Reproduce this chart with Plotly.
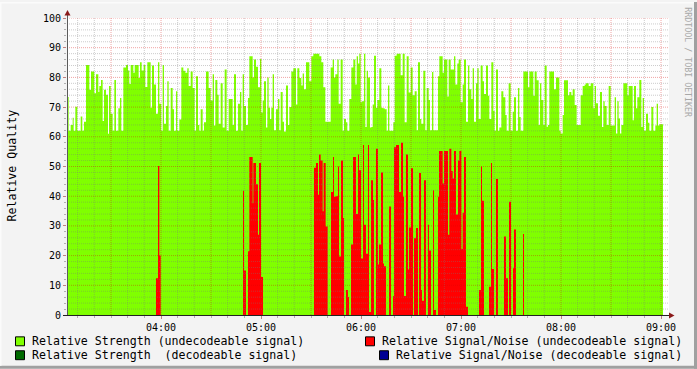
import plotly.graph_objects as go

# ---------------- data (time = minutes after 03:00) ----------------
g_t = [3.4,4.6,5.8,7.0,7.6,8.6,9.8,11.8,12.8,13.8,15.0,17.0,18.0,20.0,21.0,22.4,23.0,24.0,25.0,25.8,
       27.0,28.2,28.8,29.8,31.0,32.0,33.0,34.4,35.4,36.2,37.4,39.0,40.2,41.0,41.8,43.4,44.2,46.6,47.4,48.4,
       49.6,50.6,51.8,53.8,54.6,55.8,57.0,58.2,59.0,60.2,61.0,61.8,63.0,63.8,64.6,65.8,67.0,67.8,69.0,69.8,
       71.0,72.2,73.4,74.6,75.8,76.6,77.8,79.0,80.2,81.0,82.2,83.0,83.8,85.0,85.8,87.0,88.6,89.8,91.0,91.8,
       92.6,93.8,94.6,95.8,97.0,98.2,99.4,100.6,103.0,103.8,105.0,106.2,107.4,108.2,109.0,109.8,111.0,112.2,113.0,115.0,
       115.8,117.0,118.2,
       119.4,120.2,121.0,121.8,123.0,123.8,124.6,125.4,126.2,127.0,127.8,129.0,130.2,131.0,131.8,133.0,133.8,135.0,136.2,137.0,
       138.2,139.4,141.0,141.8,143.0,144.2,145.0,145.8,147.0,149.0,150.2,151.4,155.0,156.2,157.4,158.6,161.8,163.0,163.8,164.6,
       165.8,166.6,167.8,169.0,169.8,171.0,171.8,173.0,174.2,175.4,176.6,177.4,178.2,179.0,179.8,180.6,181.8,182.6,183.4,184.2,
       185.4,186.2,187.0,187.8,189.0,189.8,191.0,192.2,193.0,194.2,195.4,196.2,197.0,199.4,200.2,201.4,203.8,205.0,206.2,207.4,
       208.6,209.8,211.0,212.2,213.4,214.2,215.4,216.2,217.4,218.6,219.4,220.6,221.4,222.6,223.4,226.2,227.0,
       229.0,229.8,231.8,232.6,233.8,235.8,236.6,237.8,238.6,239.8,241.0,241.8,243.0,244.2,245.0,246.2,247.0,247.8,249.0,249.8,
       250.6,251.8,253.0,253.8,255.0,256.2,257.0,258.2,259.4,260.2,261.0,262.2,263.0,264.2,265.4,266.6,267.4,268.6,269.8,271.0,
       271.8,273.0,274.2,275.0,275.8,277.4,280.2,281.0,283.4,284.2,285.4,286.6,287.4,288.2,289.4,290.2,291.4,292.2,293.0,295.8,
       297.0,299.0,299.8,301.0,301.8,304.2,305.0,306.2,307.0,308.2,309.4,311.8,313.0,314.2,315.0,316.6,317.8,319.4,320.2,321.0,
       322.2,323.4,324.6,325.4,326.2,327.4,328.6,329.8,332.2,333.0,333.8,334.6,335.4,336.2,337.4,339.8,340.6,343.0,343.8,345.0,
       345.8,347.0,348.2,349.0,349.8,351.0,352.2,353.0,354.2,355.4,356.6,357.4,358.2,359.0]
g_v = [73.4,62.0,64.0,66.4,62.0,70.1,62.0,66.8,62.0,65.1,84.2,75.8,82.0,74.7,81.1,75.1,77.1,79.1,65.3,75.8,
       74.2,61.0,77.1,67.8,62.0,79.1,62.0,69.6,73.1,62.0,83.3,84.2,82.3,77.8,84.2,81.6,84.2,79.8,85.1,82.3,
       84.2,76.8,85.1,69.8,84.0,77.6,67.8,85.1,71.1,62.0,84.2,64.4,70.4,78.7,62.0,76.4,69.3,62.0,75.3,62.0,
       65.8,83.3,82.2,81.6,83.1,77.1,82.0,76.4,62.0,80.4,64.0,62.0,69.3,62.0,64.9,82.0,76.4,72.2,81.1,63.8,
       79.1,74.2,64.4,78.0,63.1,82.7,62.0,72.7,64.0,81.1,62.0,71.1,75.1,62.0,81.1,70.4,64.0,73.1,87.1,80.0,
       86.0,83.6,76.7,
       86.2,68.2,72.2,78.7,63.1,80.0,69.8,66.0,69.8,81.1,62.2,69.3,72.7,62.2,75.1,65.1,61.8,77.3,64.0,70.0,
       82.0,83.1,70.9,83.1,79.8,77.3,81.3,76.0,85.1,78.7,87.1,88.0,87.1,85.1,76.7,65.1,83.3,86.0,80.0,81.1,
       86.0,71.1,86.0,62.0,66.0,64.9,62.0,72.7,83.3,86.0,77.6,87.1,84.7,88.0,71.6,72.0,88.0,63.3,82.2,80.0,
       63.1,63.3,70.9,87.3,69.8,72.4,83.1,69.8,69.6,69.3,62.0,77.3,62.0,64.9,87.3,88.0,80.7,88.0,64.9,87.1,
       74.9,83.3,74.0,75.3,62.2,85.1,66.0,64.4,82.2,62.2,76.4,72.4,62.2,81.8,62.2,80.4,87.1,
       81.6,86.0,73.6,86.0,82.7,87.1,77.6,84.7,86.0,71.6,77.6,86.0,65.1,84.0,76.0,72.7,83.1,65.1,78.0,83.1,
       66.0,84.0,78.7,74.4,84.0,73.8,66.0,85.1,68.7,62.0,82.7,62.0,63.1,75.3,73.3,67.3,62.0,78.0,62.0,68.4,
       73.3,62.0,76.4,66.7,62.0,82.0,76.7,82.0,73.8,82.0,79.0,64.0,78.0,72.4,64.0,84.0,63.4,64.0,82.0,76.0,
       80.0,62.0,61.1,67.3,79.0,74.0,75.1,74.0,76.0,70.7,64.0,74.0,77.1,77.6,78.0,77.1,78.0,69.6,77.1,71.3,
       67.1,75.1,63.3,72.0,70.4,64.0,77.1,63.8,73.3,61.1,72.0,66.2,61.1,64.0,78.0,74.0,77.1,65.6,77.1,69.6,
       73.3,79.1,63.3,73.1,62.0,67.8,64.7,62.0,70.0,62.0,63.8,71.1,63.8,64.2]
g_end = 361.2

r_t = [57.0,58.2,59.0,59.8, 109.2,109.8,111.0,
       112.2,113.0,115.0,115.4,117.0,118.2,118.8,120.0,121.2,
       151.8,153.0,154.2,154.8,155.8,157.0,157.6,158.8,160.0,
       162.0,163.2,163.8,165.0,166.2,166.8,168.0,169.2,169.8,
       171.0,172.2,172.8,
       174.0,175.2,177.0,178.2,178.8,180.0,181.2,181.8,183.0,184.2,184.8,186.0,187.2,187.8,
       189.0,190.2,190.8,192.0,193.2,193.8,195.0, 196.8,198.0,
       199.2,199.8,201.0,202.8,204.0,205.2,205.8,207.0,208.2,208.8,210.0,211.2,
       211.8,213.0,214.2, 214.8,216.0,216.6,217.8,219.0, 220.2,220.8,222.0, 223.2,223.8,225.0,
       226.2,226.8,229.0,229.8,232.2,233.0,234.2,235.0,235.8,237.0,238.2,239.0,240.2,241.0,241.8,243.0,244.2,
       250.8,252.0,252.6,253.8, 256.8,258.0,258.6,259.8, 261.0,262.2,
       265.8,267.0,268.2, 268.8,270.0, 271.2,271.8,273.0, 277.2,277.8]
r_v = [12.4,50.2,20.0,0, 41.8,15.0,0,
       21.5,53.2,37.6,51.2,44.0,27.0,51.2,12.8,0,
       49.6,51.2,40.5,54.0,52.0,34.9,51.2,29.8,0,
       41.4,53.2,39.8,40.0,50.0,19.7,52.0,32.7,0,
       8.4,6.1,0,
       23.7,53.2,34.0,54.0,48.7,19.0,57.2,30.4,20.6,57.2,1.0,45.4,38.7,0,
       56.0,17.0,23.7,48.0,17.3,16.4,0, 36.5,0,
       6.4,56.5,57.2,41.4,58.0,39.8,6.4,54.0,15.3,29.5,49.4,0,
       25.8,29.3,0, 47.8,8.4,4.8,45.4,0, 30.4,21.7,0, 42.0,1.7,0,
       39.8,55.2,44.3,55.2,27.0,56.0,48.5,46.0,55.2,33.8,52.0,55.2,22.2,34.4,53.2,2.8,0,
       8.4,50.0,38.5,0, 9.5,51.2,15.5,0, 45.8,0,
       26.4,12.4,0, 38.1,0, 15.7,28.8,0, 27.3,0]

x_tick_labels = ["04:00", "05:00", "06:00", "07:00", "08:00", "09:00"]
y_tick_vals = [0, 10, 20, 30, 40, 50, 60, 70, 80, 90, 100]

legend_labels = ["Relative Strength (undecodeable signal)",
                 "Relative Signal/Noise (undecodeable signal)",
                 "Relative Strength \u00a0(decodeable signal)",
                 "Relative Signal/Noise (decodeable signal)"]

# ---------------- style ----------------
W, H = 697, 369
L, R, T, B = 67, 28, 16, 54
PW, PH = W - L - R, H - T - B
MIN_PER_PX = 0.6
XMIN = (L - 61) * MIN_PER_PX
XMAX = XMIN + PW * MIN_PER_PX

GREEN = "#80FF00"
RED = "#FF0000"
DKGREEN = "#006A00"
DKBLUE = "#000094"
BG = "#F3F3F3"
MONO = "DejaVu Sans Mono"


def px(xp):
    return (xp - L) / PW


def py(yp):
    return (H - B - yp) / PH


fig = go.Figure()
fig.add_trace(go.Scatter(x=g_t + [g_end], y=g_v + [g_v[-1]], mode="lines",
                         line=dict(shape="hv", width=0, color=GREEN),
                         fill="tozeroy", fillcolor=GREEN, hoverinfo="skip", showlegend=False))
fig.add_trace(go.Scatter(x=r_t, y=r_v, mode="lines",
                         line=dict(shape="hv", width=0, color=RED),
                         fill="tozeroy", fillcolor=RED, hoverinfo="skip", showlegend=False))

shapes = []
# grid drawn above data (rrdtool style)
MINOR_C = "rgba(120,120,120,0.38)"
MAJOR_C = "rgba(215,0,0,0.36)"
for m in range(10, int(XMAX) + 1, 10):
    col = MAJOR_C if m % 30 == 0 else MINOR_C
    shapes.append(dict(type="line", xref="x", yref="y", x0=m, x1=m, y0=0, y1=100,
                       line=dict(color=col, width=1, dash="1px,1px"), layer="above"))
for v in range(2, 101, 2):
    col = MAJOR_C if v % 10 == 0 else MINOR_C
    shapes.append(dict(type="line", xref="x", yref="y", x0=XMIN, x1=XMAX, y0=v, y1=v,
                       line=dict(color=col, width=1, dash="1px,1px"), layer="above"))

# axes lines + arrows
shapes.append(dict(type="line", xref="paper", yref="paper", x0=px(67.5), x1=px(67.5), y0=py(315), y1=py(11),
                   line=dict(color="#5a5a5a", width=1), layer="above"))
shapes.append(dict(type="line", xref="paper", yref="paper", x0=px(63), x1=px(670), y0=py(315.5), y1=py(315.5),
                   line=dict(color="#202020", width=1), layer="above"))
shapes.append(dict(type="path", xref="paper", yref="paper",
                   path=f"M {px(64.5)} {py(13.5)} L {px(70.5)} {py(13.5)} L {px(67.5)} {py(8)} Z",
                   fillcolor="#8B1A1A", line=dict(width=0), layer="above"))
shapes.append(dict(type="path", xref="paper", yref="paper",
                   path=f"M {px(669)} {py(312.5)} L {px(669)} {py(318.5)} L {px(674.5)} {py(315.5)} Z",
                   fillcolor="#8B1A1A", line=dict(width=0), layer="above"))

# frame
shapes.append(dict(type="rect", xref="paper", yref="paper", x0=px(0), x1=px(W), y0=py(H), y1=py(H - 3),
                   fillcolor="#A0A0A0", line=dict(width=0), layer="below"))
shapes.append(dict(type="rect", xref="paper", yref="paper", x0=px(W - 3), x1=px(W), y0=py(H), y1=py(0),
                   fillcolor="#A0A0A0", line=dict(width=0), layer="below"))
shapes.append(dict(type="rect", xref="paper", yref="paper", x0=px(0), x1=px(W - 3), y0=py(1.5), y1=py(0),
                   fillcolor="#FBFBFB", line=dict(width=0), layer="below"))
shapes.append(dict(type="rect", xref="paper", yref="paper", x0=px(0), x1=px(1.5), y0=py(H - 3), y1=py(0),
                   fillcolor="#FBFBFB", line=dict(width=0), layer="below"))

# legend swatches + texts
leg_pos = [(15, 337, 30, 341.5), (365, 337, 380, 341.5), (15, 351, 30, 355.5), (379, 351, 394, 355.5)]
leg_cols = [GREEN, RED, DKGREEN, DKBLUE]
annotations = []
for (sx, sy, tx, ty), col, lab in zip(leg_pos, leg_cols, legend_labels):
    shapes.append(dict(type="rect", xref="paper", yref="paper", x0=px(sx + 0.5), x1=px(sx + 9.5),
                       y0=py(sy + 9), y1=py(sy), fillcolor=col, line=dict(color="#000000", width=1)))
    annotations.append(dict(xref="paper", yref="paper", x=px(tx), y=py(ty), text=lab, showarrow=False,
                            xanchor="left", yanchor="middle",
                            font=dict(family=MONO, size=11.6, color="#000000")))

annotations.append(dict(xref="paper", yref="paper", x=px(12), y=py(164.5), text="Relative Quality",
                        textangle=-90, showarrow=False, xanchor="center", yanchor="middle",
                        font=dict(family=MONO, size=11.6, color="#000000")))
annotations.append(dict(xref="paper", yref="paper", x=px(688.5), y=py(60), text="RRDTOOL / TOBI OETIKER",
                        textangle=90, showarrow=False, xanchor="center", yanchor="middle",
                        font=dict(family=MONO, size=8.3, color="#A8A8A8")))

x_tick_vals = [(int(s.split(":")[0]) - 3) * 60 for s in x_tick_labels]

fig.update_layout(
    width=W, height=H, autosize=False,
    margin=dict(l=L, r=R, t=T, b=B, pad=0),
    paper_bgcolor=BG, plot_bgcolor="#FFFFFF",
    shapes=shapes, annotations=annotations, showlegend=False,
    xaxis=dict(range=[XMIN, XMAX], showgrid=False, zeroline=False, showline=False,
               tickmode="array", tickvals=x_tick_vals, ticktext=x_tick_labels,
               ticks="outside", ticklen=3, tickcolor="#C08080", tickwidth=1,
               tickfont=dict(family=MONO, size=10, color="#000000"),
               minor=dict(tickmode="linear", tick0=0, dtick=10, ticks="outside", ticklen=2,
                          tickcolor="#B0B0B0", showgrid=False)),
    yaxis=dict(range=[0, 100], showgrid=False, zeroline=False, showline=False,
               tickmode="array", tickvals=y_tick_vals,
               ticks="outside", ticklen=3, tickcolor="#C08080", tickwidth=1,
               tickfont=dict(family=MONO, size=10, color="#000000"),
               minor=dict(tickmode="linear", tick0=0, dtick=2, ticks="outside", ticklen=2,
                          tickcolor="#B0B0B0", showgrid=False)),
)

fig.write_html("out.html")
